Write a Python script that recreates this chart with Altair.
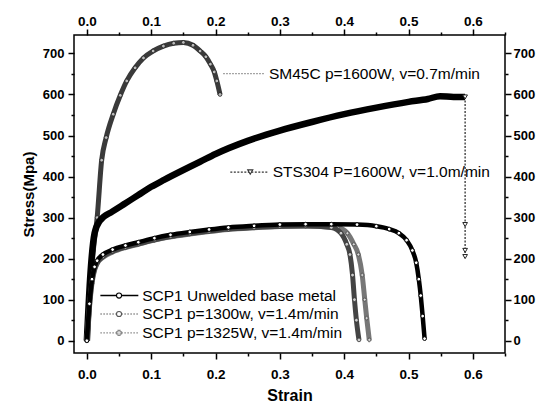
import altair as alt
import pandas as pd

FONT = "Liberation Sans"

# ---------------- data ----------------
sm_strain = [0.0, 0.005, 0.01, 0.016, 0.023, 0.03, 0.041, 0.052, 0.062, 0.075, 0.088,
             0.103, 0.119, 0.135, 0.15, 0.165, 0.176, 0.185, 0.192, 0.198, 0.202, 0.207]
sm_stress = [0, 120, 220, 300, 440, 495, 552, 598, 633, 665, 689,
             706, 718, 725, 727, 720, 706, 692, 674, 655, 633, 600]

sts_strain = [0.0, 0.005, 0.012, 0.02, 0.04, 0.06, 0.08, 0.1, 0.12, 0.15, 0.176, 0.2,
              0.25, 0.3, 0.35, 0.4, 0.45, 0.5, 0.53, 0.549, 0.57, 0.588]
sts_stress = [0, 150, 262, 292, 315, 335, 355, 375, 392, 416, 436, 455,
              487, 512, 533, 552, 568, 582, 589, 596, 594, 594]
sts_drop_strain = [0.588, 0.588, 0.588, 0.588]
sts_drop_stress = [594, 283, 220, 205]

base_strain = [0.0, 0.004, 0.008, 0.012, 0.016, 0.025, 0.04, 0.06, 0.08, 0.105, 0.13,
               0.16, 0.19, 0.22, 0.26, 0.3, 0.34, 0.38, 0.42, 0.45, 0.47, 0.485,
               0.497, 0.506, 0.512, 0.516, 0.519, 0.522, 0.525]
base_stress = [0, 90, 150, 180, 195, 210, 222, 232, 240, 250, 258,
               265, 271, 276, 280, 283, 284, 284, 283, 279, 272, 262,
               245, 220, 190, 150, 110, 60, 5]

w1300_strain = [0.0, 0.004, 0.008, 0.012, 0.016, 0.025, 0.04, 0.06, 0.08, 0.105, 0.13,
                0.16, 0.19, 0.22, 0.26, 0.3, 0.34, 0.38, 0.395, 0.404, 0.409, 0.413,
                0.416, 0.419, 0.423]
w1300_stress = [0, 85, 145, 175, 190, 205, 218, 228, 236, 246, 254,
                261, 267, 272, 276, 279, 280, 276, 262, 235, 210, 160,
                100, 50, 2]

w1325_strain = [0.0, 0.004, 0.008, 0.012, 0.016, 0.025, 0.04, 0.06, 0.08, 0.105, 0.13,
                0.16, 0.19, 0.22, 0.26, 0.3, 0.34, 0.39, 0.405, 0.415, 0.422, 0.428,
                0.432, 0.435, 0.439]
w1325_stress = [0, 80, 140, 172, 188, 203, 216, 227, 235, 245, 253,
                260, 266, 271, 275, 278, 279, 276, 262, 235, 210, 160,
                100, 55, 2]

# annotation labels (text, sample-line start/end strain, marker strain, text strain, stress)
ann_text = ["SM45C p=1600W, v=0.7m/min", "STS304 P=1600W, v=1.0m/min",
            "SCP1 Unwelded base metal", "SCP1 p=1300w, v=1.4m/min",
            "SCP1 p=1325W, v=1.4m/min"]
ann_x0 = [0.212, 0.223, 0.021, 0.021, 0.021]
ann_x1 = [0.277, 0.282, 0.080, 0.080, 0.080]
ann_xm = [0.245, 0.254, 0.050, 0.050, 0.050]
ann_xt = [0.283, 0.289, 0.086, 0.086, 0.086]
ann_y = [651, 411, 110, 65, 19]

# ---------------- helpers ----------------
XDOM = [-0.02, 0.65]
YDOM = [-30, 745]
xmaj = "abs(datum.value*10 - round(datum.value*10)) < 0.001"
ymaj = "abs(datum.value/100 - round(datum.value/100)) < 0.001"
xvals = [round(i * 0.05, 2) for i in range(0, 14)]
yvals = [i * 50 for i in range(0, 15)]


def xaxis(orient):
    return alt.Axis(orient=orient, values=xvals, grid=False, domain=False,
                    labelExpr=f"{xmaj} ? format(datum.value, '.1f') : ''",
                    tickSize={"condition": {"test": xmaj, "value": 6}, "value": 3},
                    tickColor="black", tickWidth=1.5, labelFont=FONT, labelFontSize=13.5,
                    labelFontWeight="bold", labelColor="black",
                    labelPadding=8 if orient == "bottom" else 1,
                    titleFont=FONT, titleFontSize=16, titleFontWeight="bold",
                    titleColor="black", titlePadding=7, labelFlush=False)


def yaxis(orient):
    return alt.Axis(orient=orient, values=yvals, grid=False, domain=False,
                    labelExpr=f"{ymaj} ? format(datum.value, 'd') : ''",
                    tickSize={"condition": {"test": ymaj, "value": 6}, "value": 3},
                    tickColor="black", tickWidth=1.5, labelFont=FONT, labelFontSize=13,
                    labelFontWeight="bold", labelColor="black",
                    labelPadding=4 if orient == "left" else 2,
                    titleFont=FONT, titleFontSize=15, titleFontWeight="bold",
                    titleColor="black", titlePadding=6, labelFlush=False)


XS = alt.Scale(domain=XDOM, nice=False, zero=False)
YS = alt.Scale(domain=YDOM, nice=False, zero=False)


def X(field="strain"):
    return alt.X(f"{field}:Q", scale=XS, axis=xaxis("bottom"), title="Strain")


def Y(field="stress"):
    return alt.Y(f"{field}:Q", scale=YS, axis=yaxis("left"), title="Stress(Mpa)")


def frame(xs, ys):
    return pd.DataFrame({"strain": xs, "stress": ys, "i": list(range(len(xs)))})


def curve(xs, ys, color, width, dash=None):
    kw = dict(color=color, strokeWidth=width, clip=True, interpolate="monotone")
    if dash:
        kw["strokeDash"] = dash
        kw["interpolate"] = "linear"
    return alt.Chart(frame(xs, ys)).mark_line(**kw).encode(x=X(), y=Y(), order="i:Q")


def pts(xs, ys, shape, stroke, size, fill="white", sw=1.0):
    return alt.Chart(frame(xs, ys)).mark_point(shape=shape, filled=False, fill=fill,
                                               fillOpacity=1, stroke=stroke, strokeWidth=sw,
                                               size=size, opacity=1).encode(x=X(), y=Y())


layers = []
# SM45C
layers.append(curve(sm_strain, sm_stress, "#3a3a3a", 5))
layers.append(pts(sm_strain, sm_stress, "circle", "#222", 14, fill="#bbb", sw=0.8))
# STS304
layers.append(curve(sts_strain, sts_stress, "black", 6.5))
layers.append(curve(sts_drop_strain, sts_drop_stress, "#333", 1.3, [2, 1.5]))
layers.append(pts(sts_drop_strain, sts_drop_stress, "triangle-down", "#222", 22))
# SCP1 welded
layers.append(curve(w1325_strain, w1325_stress, "#777", 5))
layers.append(pts(w1325_strain, w1325_stress, "cross", "#555", 14, fill="#ddd", sw=0.8))
layers.append(curve(w1300_strain, w1300_stress, "#444", 5))
layers.append(pts(w1300_strain, w1300_stress, "circle", "#333", 14, fill="#ccc", sw=0.8))
# SCP1 unwelded
layers.append(curve(base_strain, base_stress, "black", 4.5))
layers.append(pts(base_strain, base_stress, "circle", "black", 14, fill="white", sw=1.0))

# annotations
ann = pd.DataFrame({"label": ann_text, "strain": ann_x0, "strain2": ann_x1,
                    "xm": ann_xm, "xt": ann_xt, "stress": ann_y,
                    "k": list(range(len(ann_text)))})

styles = [
    dict(color="#888", w=1.2, dash=[1.5, 1.5], shape=None),
    dict(color="#333", w=1.3, dash=[2, 1.5], shape="triangle-down"),
    dict(color="black", w=1.6, dash=None, shape="circle"),
    dict(color="#555", w=1.2, dash=[1.5, 1.5], shape="circle"),
    dict(color="#888", w=1.2, dash=[1.5, 1.5], shape="cross"),
]
for k, st in enumerate(styles):
    sub = ann[ann["k"] == k]
    kw = dict(color=st["color"], strokeWidth=st["w"])
    if st["dash"]:
        kw["strokeDash"] = st["dash"]
    layers.append(alt.Chart(sub).mark_rule(**kw).encode(
        x=X(), x2=alt.X2("strain2:Q", title="Strain"), y=Y()))
    if st["shape"]:
        layers.append(alt.Chart(sub).mark_point(shape=st["shape"], filled=False, fill="white",
                                                fillOpacity=1, stroke=st["color"],
                                                strokeWidth=1.1, size=26, opacity=1).encode(
            x=X("xm"), y=Y()))

layers.append(alt.Chart(ann).mark_text(align="left", baseline="middle", font=FONT,
                                       fontSize=15.5, color="black", dx=0).encode(
    x=X("xt"), y=Y(), text="label:N"))

main = alt.layer(*layers)

# secondary (top / right) axes
sec = alt.Chart(frame(sm_strain[:2], sm_stress[:2])).mark_point(opacity=0).encode(
    x=alt.X("strain:Q", scale=XS, axis=xaxis("top"), title=None),
    y=alt.Y("stress:Q", scale=YS, axis=yaxis("right"), title=None),
)

chart = alt.layer(main, sec).resolve_axis(x="independent", y="independent").properties(
    width=431, height=318,
    autosize=alt.AutoSizeParams(type="none"),
    padding={"left": 66, "top": 27, "right": 31, "bottom": 55},
    background="white",
).configure_view(stroke="black", strokeWidth=1.5)

chart.save("out.html", embed_options={"renderer": "svg", "actions": False})
